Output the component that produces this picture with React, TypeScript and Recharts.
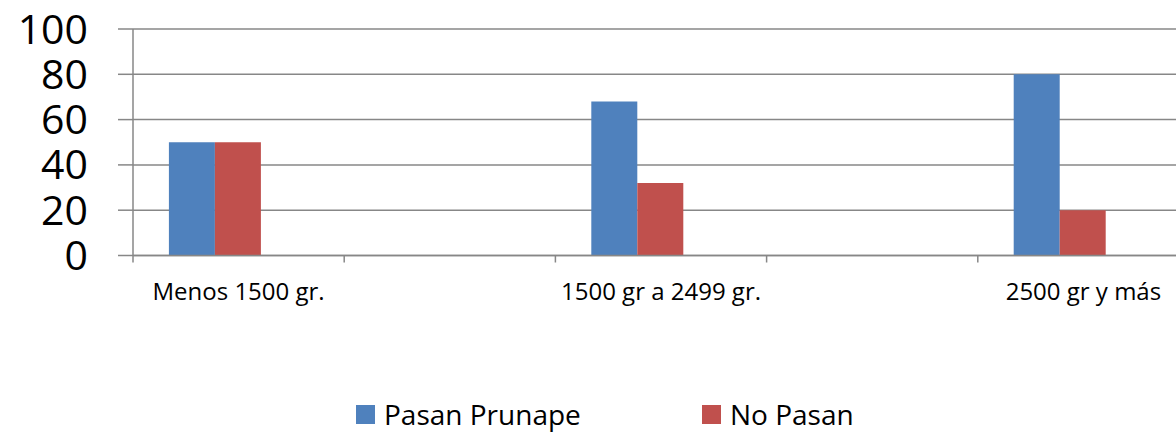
import { BarChart, Bar, CartesianGrid, XAxis, YAxis, Legend } from 'recharts'

const categories = ['Menos 1500 gr.', '', '1500 gr a 2499 gr.', '', '2500 gr y más']
const pasanPrunape = [50, null, 68, null, 80]
const noPasan = [50, null, 32, null, 20]
// Excel reserved a third (empty) series slot, which keeps bars off-centre
const emptySeries = [null, null, null, null, null]
const yTicks = [0, 20, 40, 60, 80, 100]
const legendOrder = ['Pasan Prunape', 'No Pasan']

const data = categories.map((cat, i) => ({
  cat,
  pasan: pasanPrunape[i],
  noPasan: noPasan[i],
  empty: emptySeries[i],
}))

const GRID = '#878787'
const FONT = '"Open Sans", sans-serif'

function CategoryTick(props: any) {
  const { x, y, payload } = props
  const half = payload?.offset ?? 105.6
  return (
    <g>
      <line x1={x - half} x2={x - half} y1={y} y2={y + 7} stroke={GRID} strokeWidth={1.5} />
      {payload.value ? (
        <text x={x} y={y} dy={44} textAnchor="middle" fontSize={24} fill="#000" fontFamily={FONT}>
          {payload.value}
        </text>
      ) : null}
    </g>
  )
}

function LegendBox(props: any) {
  const items = (props.payload || [])
    .filter((p: any) => p.type !== 'none')
    .sort((a: any, b: any) => legendOrder.indexOf(a.value) - legendOrder.indexOf(b.value))
  return (
    <div style={{ height: 40, display: 'flex', alignItems: 'center', paddingLeft: 356, fontFamily: FONT }}>
      {items.map((item: any) => (
        <div key={item.value} style={{ display: 'flex', alignItems: 'center', width: 346 }}>
          <span style={{ width: 19, height: 19, background: item.color, marginRight: 9, display: 'inline-block' }} />
          <span style={{ fontSize: 28, color: '#000', lineHeight: '40px' }}>{item.value}</span>
        </div>
      ))}
    </div>
  )
}

export default function App() {
  return (
    <div style={{ position: 'absolute', left: 0, top: 0, width: 1176, height: 434, overflow: 'hidden', background: '#fff' }}>
      <BarChart
        width={1190}
        height={434}
        data={data}
        margin={{ top: 29, right: 1, bottom: 0, left: 0 }}
        barCategoryGap="17%"
        barGap={0}
        style={{ fontFamily: FONT }}
      >
        <CartesianGrid vertical={false} stroke={GRID} strokeWidth={1.5} />
        <XAxis
          dataKey="cat"
          interval={0}
          height={138.5}
          tickSize={0}
          tickMargin={0}
          tickLine={false}
          axisLine={{ stroke: GRID, strokeWidth: 1.5 }}
          tick={<CategoryTick />}
        />
        <YAxis
          domain={[0, 100]}
          ticks={yTicks}
          interval={0}
          width={133}
          tickSize={15}
          tickMargin={30}
          tickLine={{ stroke: GRID, strokeWidth: 1.5 }}
          axisLine={{ stroke: GRID, strokeWidth: 1.5 }}
          tick={{ fill: '#000', fontSize: 41, fontFamily: FONT }}
        />
        <Legend verticalAlign="bottom" content={<LegendBox />} />
        <Bar dataKey="pasan" name="Pasan Prunape" fill="#4F81BD" isAnimationActive={false} />
        <Bar dataKey="noPasan" name="No Pasan" fill="#C0504D" isAnimationActive={false} />
        <Bar dataKey="empty" name="empty" fill="#9BBB59" legendType="none" isAnimationActive={false} />
      </BarChart>
    </div>
  )
}
